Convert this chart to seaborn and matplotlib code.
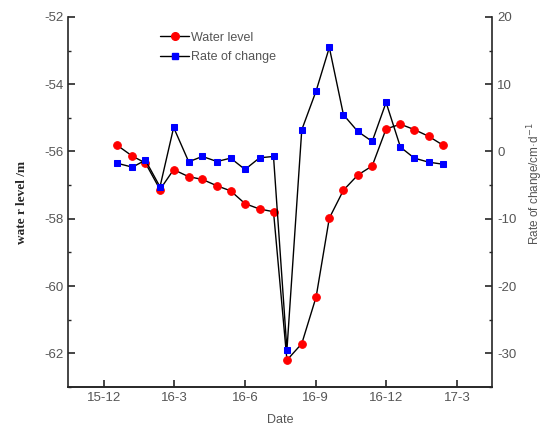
import numpy as np
import pandas as pd
import matplotlib.pyplot as plt
from matplotlib.lines import Line2D
from matplotlib.ticker import MultipleLocator
import seaborn as sns

# months since 2015-12 (observation dates)
months = [0.56, 1.22, 1.77, 2.39, 2.97, 3.61, 4.19, 4.81, 5.39, 6.0, 6.62, 7.21,
          7.78, 8.41, 9.02, 9.58, 10.18, 10.79, 11.4, 11.99, 12.6, 13.19, 13.8, 14.4]
water_level = [-55.81, -56.14, -56.34, -57.13, -56.54, -56.75, -56.83, -57.02, -57.17,
               -57.55, -57.71, -57.79, -62.2, -61.71, -60.32, -57.98, -57.15, -56.7,
               -56.43, -55.33, -55.19, -55.35, -55.55, -55.81]
rate_of_change = [-1.74, -2.33, -1.29, -5.25, 3.57, -1.53, -0.74, -1.49, -0.99, -2.67,
                  -0.94, -0.74, -29.47, 3.22, 9.0, 15.45, 5.45, 2.97, 1.49, 7.28,
                  0.64, -0.99, -1.59, -1.89]
tick_pos = [0, 3, 6, 9, 12, 15]
tick_labels = ['15-12', '16-3', '16-6', '16-9', '16-12', '17-3']

df = pd.DataFrame({'month': months, 'level': water_level, 'rate': rate_of_change})

sns.set_style('ticks')
plt.rcParams['font.family'] = ['Liberation Sans', 'DejaVu Sans']
plt.rcParams['axes.unicode_minus'] = False
plt.rcParams['xtick.direction'] = 'in'
plt.rcParams['ytick.direction'] = 'in'

fig = plt.figure(figsize=(5.47, 4.32), dpi=100)
ax = fig.add_axes([0.125, 0.104, 0.775, 0.857])
ax2 = ax.twinx()

sns.lineplot(data=df, x='month', y='level', ax=ax, color='black', lw=1,
             marker='o', markersize=5.5, markerfacecolor='red', markeredgecolor='red')
sns.lineplot(data=df, x='month', y='rate', ax=ax2, color='black', lw=1,
             marker='s', markersize=5, markerfacecolor='blue', markeredgecolor='blue')

grey = '#555555'
ax.set_xlim(-1.5, 16.5)
ax.set_ylim(-63, -52)
ax2.set_ylim(-35, 20)
ax.set_xticks(tick_pos)
ax.set_xticklabels(tick_labels)
ax.yaxis.set_major_locator(MultipleLocator(2))
ax.yaxis.set_minor_locator(MultipleLocator(1))
ax2.yaxis.set_major_locator(MultipleLocator(10))
ax2.yaxis.set_minor_locator(MultipleLocator(5))
ax2.set_yticks([20, 10, 0, -10, -20, -30])

for a in (ax, ax2):
    a.spines['top'].set_visible(False)
    for s in a.spines.values():
        s.set_linewidth(1.2)
    a.tick_params(which='major', length=5, width=1.2, labelsize=9.5, labelcolor=grey)
    a.tick_params(which='minor', length=2.5, width=1)
ax2.spines['left'].set_visible(False)
ax.spines['right'].set_visible(False)

ax.set_xlabel('Date', fontsize=9, color=grey, labelpad=7)
ax.set_ylabel('wate r level /m', family=['Liberation Serif'], fontweight='bold',
              fontsize=9.5, labelpad=12)
ax2.set_ylabel('Rate of change/cm·d$^{-1}$', fontsize=8.5, color=grey, rotation=90)
ax2.yaxis.set_label_coords(1.078, 0.55)

handles = [
    Line2D([], [], color='black', lw=1, marker='o', markersize=5.5,
           markerfacecolor='red', markeredgecolor='red', label='Water level'),
    Line2D([], [], color='black', lw=1, marker='s', markersize=5,
           markerfacecolor='blue', markeredgecolor='blue', label='Rate of change'),
]
leg = ax.legend(handles=handles, loc='upper left', bbox_to_anchor=(0.19, 0.99),
                frameon=False, fontsize=9, handlelength=2.3, labelspacing=0.6,
                handletextpad=0.2)
for t in leg.get_texts():
    t.set_color(grey)

fig.savefig('out.png', dpi=100)
